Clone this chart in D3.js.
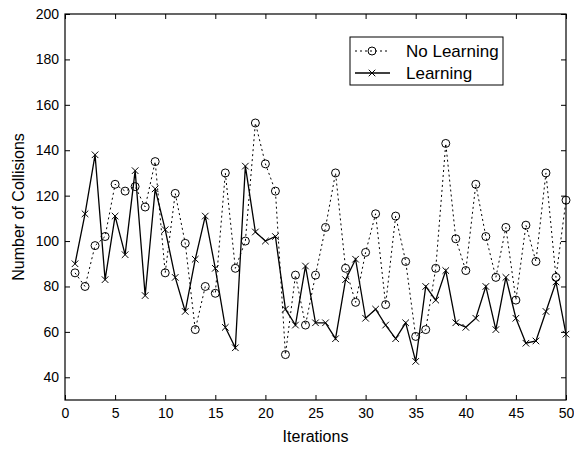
<!DOCTYPE html>
<html>
<head>
<meta charset="utf-8">
<script src="https://cdn.jsdelivr.net/npm/d3@7"></script>
<style>
  body { margin: 0; background: #fff; }
  text { font-family: "Liberation Sans", Arial, sans-serif; fill: #000; }
</style>
</head>
<body>
<script>
var iterations = d3.range(1, 51);
var noLearning = [86, 80, 98, 102, 125, 122, 124, 115, 135, 86,
                  121, 99, 61, 80, 77, 130, 88, 100, 152, 134,
                  122, 50, 85, 63, 85, 106, 130, 88, 73, 95,
                  112, 72, 111, 91, 58, 61, 88, 143, 101, 87,
                  125, 102, 84, 106, 74, 107, 91, 130, 84, 118];
var learning = [90, 112, 138, 83, 111, 94, 131, 76, 123, 105,
                84, 69, 92, 111, 88, 62, 53, 133, 104, 100,
                102, 70, 63, 89, 64, 64, 57, 83, 92, 66,
                70, 63, 57, 64, 47, 80, 74, 87, 64, 62,
                66, 80, 61, 84, 66, 55, 56, 69, 82, 59];
var xTicks = [0, 5, 10, 15, 20, 25, 30, 35, 40, 45, 50];
var yTicks = [40, 60, 80, 100, 120, 140, 160, 180, 200];

var width = 574, height = 449;
var mLeft = 65, mRight = 566, mTop = 14, mBottom = 400;

var svg = d3.select('body').append('svg')
  .attr('width', width)
  .attr('height', height);

var x = d3.scaleLinear().domain([0, 50]).range([mLeft, mRight]);
var y = d3.scaleLinear().domain([30, 200]).range([mBottom, mTop]);

// axes, MATLAB style: ticks inward, mirrored on top and right
svg.append('g')
  .attr('transform', 'translate(0,' + mBottom + ')')
  .call(d3.axisBottom(x).tickValues(xTicks).tickSize(-5).tickPadding(8))
  .call(g => g.select('.domain').remove())
  .selectAll('text').attr('font-size', 14);

svg.append('g')
  .attr('transform', 'translate(0,' + mTop + ')')
  .call(d3.axisTop(x).tickValues(xTicks).tickSize(-5).tickFormat(''))
  .call(g => g.select('.domain').remove());

svg.append('g')
  .attr('transform', 'translate(' + mLeft + ',0)')
  .call(d3.axisLeft(y).tickValues(yTicks).tickSize(-5).tickPadding(6))
  .call(g => g.select('.domain').remove())
  .selectAll('text').attr('font-size', 14);

svg.append('g')
  .attr('transform', 'translate(' + mRight + ',0)')
  .call(d3.axisRight(y).tickValues(yTicks).tickSize(-5).tickFormat(''))
  .call(g => g.select('.domain').remove());

svg.selectAll('.tick line').attr('stroke', '#000');

svg.append('rect')
  .attr('x', mLeft).attr('y', mTop)
  .attr('width', mRight - mLeft).attr('height', mBottom - mTop)
  .attr('fill', 'none').attr('stroke', '#000').attr('stroke-width', 1.2);

var line = d3.line().x((d, i) => x(iterations[i])).y(d => y(d));

// No Learning: dotted with open circles
svg.append('path')
  .datum(noLearning)
  .attr('d', line)
  .attr('fill', 'none')
  .attr('stroke', '#000')
  .attr('stroke-width', 1)
  .attr('stroke-dasharray', '2,3');

svg.append('g').selectAll('circle')
  .data(noLearning)
  .enter().append('circle')
  .attr('cx', (d, i) => x(iterations[i]))
  .attr('cy', d => y(d))
  .attr('r', 4)
  .attr('fill', 'none')
  .attr('stroke', '#000')
  .attr('stroke-width', 1);

// Learning: solid with x markers
svg.append('path')
  .datum(learning)
  .attr('d', line)
  .attr('fill', 'none')
  .attr('stroke', '#000')
  .attr('stroke-width', 1.3);

var cross = d3.symbol().type(d3.symbolX).size(30);
svg.append('g').selectAll('path')
  .data(learning)
  .enter().append('path')
  .attr('d', cross)
  .attr('transform', (d, i) => 'translate(' + x(iterations[i]) + ',' + y(d) + ')')
  .attr('stroke', '#000')
  .attr('stroke-width', 1)
  .attr('fill', 'none');

// legend
var leg = svg.append('g');
leg.append('rect')
  .attr('x', 350).attr('y', 37)
  .attr('width', 153).attr('height', 48)
  .attr('fill', '#fff').attr('stroke', '#000');

leg.append('line')
  .attr('x1', 355).attr('x2', 390).attr('y1', 51).attr('y2', 51)
  .attr('stroke', '#000').attr('stroke-dasharray', '2,3');
leg.append('circle')
  .attr('cx', 372).attr('cy', 51).attr('r', 4)
  .attr('fill', 'none').attr('stroke', '#000');
leg.append('text')
  .attr('x', 406).attr('y', 57)
  .attr('font-size', 17)
  .text('No Learning');

leg.append('line')
  .attr('x1', 355).attr('x2', 390).attr('y1', 73).attr('y2', 73)
  .attr('stroke', '#000').attr('stroke-width', 1.3);
leg.append('path')
  .attr('d', cross)
  .attr('transform', 'translate(372,73)')
  .attr('stroke', '#000').attr('fill', 'none');
leg.append('text')
  .attr('x', 406).attr('y', 79)
  .attr('font-size', 17)
  .text('Learning');

// axis titles
svg.append('text')
  .attr('x', (mLeft + mRight) / 2)
  .attr('y', 442)
  .attr('text-anchor', 'middle')
  .attr('font-size', 16)
  .text('Iterations');

svg.append('text')
  .attr('transform', 'translate(24,' + ((mTop + mBottom) / 2) + ') rotate(-90)')
  .attr('text-anchor', 'middle')
  .attr('font-size', 16)
  .text('Number of Collisions');
</script>
</body>
</html>
